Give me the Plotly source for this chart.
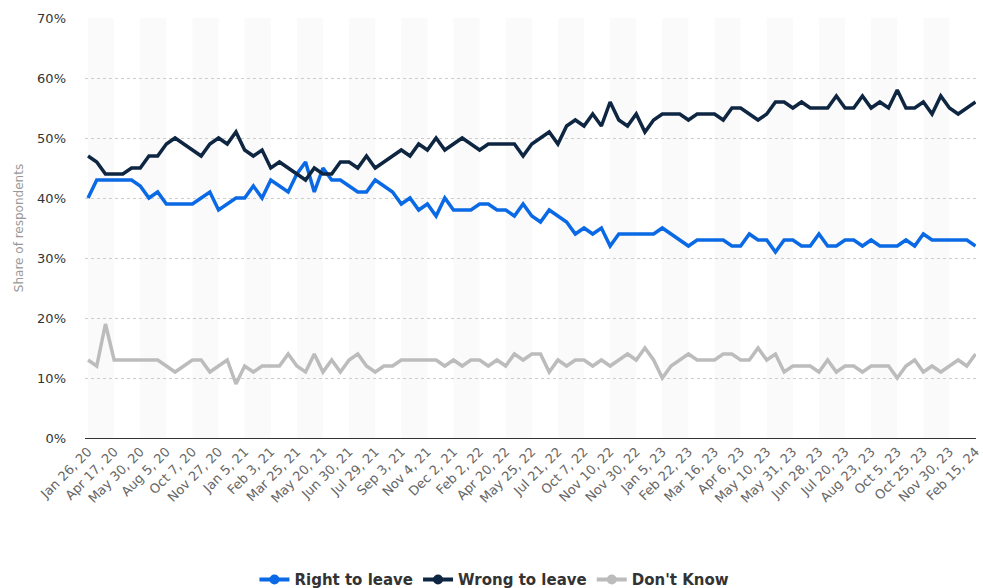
import plotly.graph_objects as go

# Survey waves (every third wave is labelled on the axis)
tick_labels = [
    "Jan 26, 20", "Apr 17, 20", "May 30, 20", "Aug 5, 20", "Oct 7, 20",
    "Nov 27, 20", "Jan 5, 21", "Feb 3, 21", "Mar 25, 21", "May 20, 21",
    "Jun 30, 21", "Jul 29, 21", "Sep 3, 21", "Nov 4, 21", "Dec 2, 21",
    "Feb 2, 22", "Apr 20, 22", "May 25, 22", "Jul 21, 22", "Oct 7, 22",
    "Nov 10, 22", "Nov 30, 22", "Jan 5, 23", "Feb 22, 23", "Mar 16, 23",
    "Apr 6, 23", "May 10, 23", "May 31, 23", "Jun 28, 23", "Jul 20, 23",
    "Aug 23, 23", "Oct 5, 23", "Oct 25, 23", "Nov 30, 23", "Feb 15, 24",
]
label_step = 3

# Share of respondents (%)
right_to_leave = [
    40, 43, 43, 43, 43, 43, 42, 40, 41, 39, 39, 39, 39, 40, 41, 38, 39, 40, 40, 42,
    40, 43, 42, 41, 44, 46, 41, 45,
    43, 43, 42, 41, 41, 43, 42, 41, 39, 40, 38, 39, 37, 40, 38, 38, 38, 39, 39, 38,
    38, 37, 39, 37, 36, 38, 37, 36, 34, 35, 34, 35, 32, 34, 34, 34, 34,
    34, 35, 34, 33, 32, 33, 33, 33, 33, 32, 32, 34, 33, 33, 31, 33, 33, 32, 32, 34,
    32, 32, 33, 33, 32, 33, 32, 32, 32, 33, 32, 34, 33, 33, 33, 33, 33, 32,
]
wrong_to_leave = [
    47, 46, 44, 44, 44, 45, 45, 47, 47, 49, 50, 49, 48, 47, 49, 50, 49, 51, 48, 47,
    48, 45, 46, 45, 44, 43, 45, 44,
    44, 46, 46, 45, 47, 45, 46, 47, 48, 47, 49, 48, 50, 48, 49, 50, 49, 48, 49, 49,
    49, 49, 47, 49, 50, 51, 49, 52, 53, 52, 54, 52, 56, 53, 52, 54, 51,
    53, 54, 54, 54, 53, 54, 54, 54, 53, 55, 55, 54, 53, 54, 56, 56, 55, 56, 55, 55,
    55, 57, 55, 55, 57, 55, 56, 55, 58, 55, 55, 56, 54, 57, 55, 54, 55, 56,
]
dont_know = [
    13, 12, 19, 13, 13, 13, 13, 13, 13, 12, 11, 12, 13, 13, 11, 12, 13, 9, 12, 11,
    12, 12, 12, 14, 12, 11, 14, 11,
    13, 11, 13, 14, 12, 11, 12, 12, 13, 13, 13, 13, 13, 12, 13, 12, 13, 13, 12, 13,
    12, 14, 13, 14, 14, 11, 13, 12, 13, 13, 12, 13, 12, 13, 14, 13, 15,
    13, 10, 12, 13, 14, 13, 13, 13, 14, 14, 13, 13, 15, 13, 14, 11, 12, 12, 12, 11,
    13, 11, 12, 12, 11, 12, 12, 12, 10, 12, 13, 11, 12, 11, 12, 13, 12, 14,
]

y_ticks = [0, 10, 20, 30, 40, 50, 60, 70]

series = [
    ("Right to leave", right_to_leave, "#0a69e4"),
    ("Wrong to leave", wrong_to_leave, "#0e2641"),
    ("Don't Know", dont_know, "#bcbcbc"),
]

FONT = "DejaVu Sans"
n = len(right_to_leave)
x = list(range(n))
tickvals = [i * label_step for i in range(len(tick_labels))]

fig = go.Figure()
for name, vals, color in series:
    fig.add_trace(go.Scatter(
        x=x, y=vals, name=name, mode="lines",
        line=dict(color=color, width=3.5, shape="linear"),
        showlegend=False,
        hovertemplate="%{y}%<extra>" + name + "</extra>",
    ))
# legend entries drawn with a line and a marker
for name, vals, color in series:
    fig.add_trace(go.Scatter(
        x=[None], y=[None], name=name, mode="lines+markers",
        line=dict(color=color, width=4),
        marker=dict(color=color, size=10, symbol="circle"),
        showlegend=True,
    ))

# alternating shaded bands between labelled ticks
shapes = []
for k in range(0, len(tickvals) - 1, 2):
    x0 = tickvals[k]
    x1 = min(tickvals[k] + label_step, n - 1)
    shapes.append(dict(
        type="rect", xref="x", yref="paper", x0=x0, x1=x1, y0=0, y1=1,
        fillcolor="#fafafa", line=dict(width=0), layer="below",
    ))

fig.update_layout(
    width=983, height=588,
    margin=dict(l=85, r=1, t=18, b=150),
    paper_bgcolor="white", plot_bgcolor="white",
    font=dict(family=FONT, color="#333333"),
    shapes=shapes,
    showlegend=True,
    legend=dict(
        orientation="h", xref="container", x=0.503, xanchor="center",
        yref="container", y=0.042, yanchor="top",
        font=dict(family=FONT, size=15, color="#333333", weight="bold"),
        itemwidth=30, tracegroupgap=0,
    ),
    xaxis=dict(
        range=[-0.35, n - 1 + 0.05],
        tickmode="array", tickvals=tickvals, ticktext=tick_labels,
        tickangle=-45, tickfont=dict(family=FONT, size=13, color="#666666"),
        ticklabeloverflow="allow",
        showgrid=False, zeroline=False,
        showline=True, linecolor="#333333", linewidth=1,
        ticks="", fixedrange=True,
    ),
    yaxis=dict(
        range=[0, 70], tickmode="array", tickvals=y_ticks,
        ticktext=[f"{v}%" for v in y_ticks],
        tickfont=dict(family=FONT, size=13, color="#333333"),
        showgrid=True, gridcolor="#cccccc", griddash="dot", gridwidth=1,
        zeroline=False, ticks="", ticklabelstandoff=18,
        title=dict(text="Share of respondents", standoff=10,
                   font=dict(family=FONT, size=12, color="#999999")),
        fixedrange=True,
    ),
)

fig.write_html("out.html")
